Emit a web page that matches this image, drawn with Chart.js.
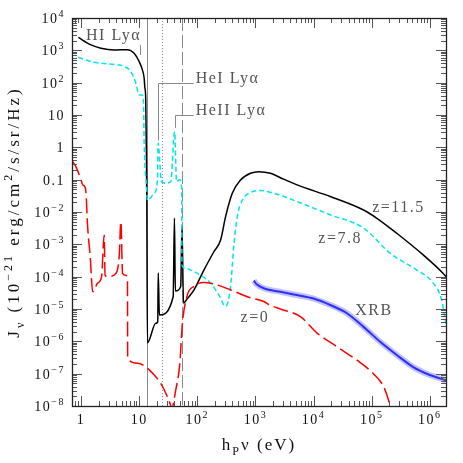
<!DOCTYPE html>
<html>
<head>
<meta charset="utf-8">
<title>J_nu spectra</title>
<script src="https://cdn.jsdelivr.net/npm/chart.js@4/dist/chart.umd.min.js"></script>
<style>
  html, body { margin: 0; padding: 0; background: #fff; }
</style>
</head>
<body>
<canvas id="chart" width="463" height="463"></canvas>
<script>
// photon energy (eV) and J_nu (1e-21 erg/cm2/s/sr/Hz)

// z = 11.5 (black, solid)
var z115Energy = [0.9, 1.48, 2.2, 3.7, 6.3, 8.2, 10.0, 11.4, 12.2, 12.5, 13.0, 13.4, 13.55, 13.9,
  19.3, 20.9, 21.3, 22.3, 38.5, 40.5, 42.0, 51.9, 54.6, 58.0, 67.5, 88, 130, 193, 252, 307,
  400, 555, 824, 1143, 1814, 2690, 5210, 19400, 72400, 123000, 270000, 770000, 1700000, 1900000];
var z115J = [2500, 1470, 1160, 1025, 1050, 810, 450, 245, 137, 75, 29, 0.27, 0.02, 9e-7,
  3.6e-6, 4e-6, 1.3e-4, 6.5e-6, 2.4e-5, 6.5e-3, 3.6e-5, 5e-5, 3.6e-3, 1.5e-5, 2.1e-5, 3.9e-5, 1.6e-4, 5.9e-4, 1.36e-3, 7.2e-3,
  0.038, 0.098, 0.158, 0.177, 0.158, 0.115, 0.069, 0.030, 0.0115, 6.4e-3, 2.2e-3, 4.7e-4, 1.26e-4, 1e-4];

// z = 7.8 (cyan, short dashes)
var z78Energy = [0.9, 1.48, 2.2, 4.26, 5.53, 7.2, 8.8, 10.0, 11.4, 11.9, 12.2, 13.4, 13.9, 18.1, 20.7,
  21.2, 24.2, 28.6, 35, 40.8, 44, 50, 54.0, 54.5, 63, 77, 114, 170, 236, 307, 374, 426, 488, 594,
  824, 1222, 2070, 5210, 19400, 72400, 208000, 596000, 1150000, 1600000, 1800000, 1900000];
var z78J = [611, 447, 398, 355, 316, 220, 95, 41.7, 41.7, 23, 1.35, 0.06, 0.023, 0.038, 0.098,
  1.35, 0.087, 0.078, 0.087, 3.03, 0.087, 0.1, 0.05, 2.3e-4, 1.8e-4, 1.6e-4, 1.1e-4, 6.3e-5, 2.7e-5, 1.2e-5, 5e-5, 9.4e-4, 7.2e-3, 0.023,
  0.04, 0.046, 0.038, 0.021, 8.2e-3, 3.2e-3, 5.3e-4, 1.6e-4, 6.3e-5, 1.9e-5, 6e-6, 3.5e-6];

// z = 0 (red, long dashes)
var z0Energy = [0.72, 0.82, 0.935, 1.0, 1.07, 1.17, 1.22, 1.30, 1.44, 1.59, 1.93, 2.26, 2.5, 2.6, 2.87,
  3.98, 4.54, 4.85, 5.19, 5.9, 6.3, 6.35, 9.4, 13.9, 18.1, 23.6, 30.7, 35, 36, 42.6, 50, 55.5, 67.5,
  88, 130, 170, 374, 723, 1393, 1814, 2690, 5940, 11500, 25300, 63500, 107000, 160000, 195000, 210000];
var z0J = [0.36, 0.25, 0.14, 0.098, 0.069, 0.06, 0.038, 3.5e-3, 4.2e-4, 3.4e-5, 6.3e-5, 1e-4, 1.9e-3, 1.1e-4, 1e-4,
  1.25e-4, 4.3e-4, 5e-3, 1.26e-4, 1.1e-4, 8e-5, 3e-7, 2.1e-7, 1.47e-7, 9.1e-8, 5e-8, 1.9e-8, 1e-8, 8e-9, 3.1e-8, 2e-7, 3.6e-6, 2.7e-5,
  5e-5, 6.6e-5, 6.3e-5, 3.9e-5, 2.4e-5, 1.7e-5, 1.3e-5, 1e-5, 5.8e-6, 1.8e-6, 6.8e-7, 2.2e-7, 1e-7, 4e-8, 1.5e-8, 8e-9];

// observed X-ray background (blue band)
var xrbEnergy = [940, 1050, 1393, 2690, 5210, 10000, 19400, 37600, 72400, 140000, 270000, 520000, 1000000, 1800000, 1900000];
var xrbJ = [7.5e-5, 5.8e-5, 4.4e-5, 3.4e-5, 2.7e-5, 2.1e-5, 1.33e-5, 7.4e-6, 2.8e-6, 9.7e-7, 3.8e-7, 1.6e-7, 9.1e-8, 6.4e-8, 6.1e-8];

// ionisation edges (HI, HeI, HeII) and Ly-alpha energies
var edgeEnergy = [13.6, 24.6, 54.4];
var lyaEnergy = [10.2, 21.2, 40.8];
var lyaNames = ['HI Ly\u03b1', 'HeI Ly\u03b1', 'HeII Ly\u03b1'];

var xTickValues = [1, 10, 100, 1e3, 1e4, 1e5, 1e6];
var xTickLabels = ['1', '10', '10^2', '10^3', '10^4', '10^5', '10^6'];
var yTickValues = [1e4, 1e3, 100, 10, 1, 0.1, 1e-2, 1e-3, 1e-4, 1e-5, 1e-6, 1e-7, 1e-8];
var yTickLabels = ['10^4', '10^3', '10^2', '10', '1', '0.1', '10^-2', '10^-3', '10^-4', '10^-5', '10^-6', '10^-7', '10^-8'];

var FONT = "'Liberation Serif', 'DejaVu Serif', serif";

function series(xs, ys) {
  return xs.map(function (x, i) { return { x: x, y: ys[i] }; });
}

// 1..9 x 10^n ticks over the axis range
function logTicks(scale) {
  var out = [];
  var lo = Math.floor(Math.log10(scale.min)), hi = Math.ceil(Math.log10(scale.max));
  for (var e = lo; e <= hi; e++) {
    for (var m = 1; m < 10; m++) {
      var v = m * Math.pow(10, e);
      if (v >= scale.min * 0.999 && v <= scale.max * 1.001) out.push({ value: v, major: m === 1 });
    }
  }
  scale.ticks = out;
}

function parseLabel(s) {
  var i = s.indexOf('^');
  if (i < 0) return [{ t: s }];
  return [{ t: s.slice(0, i) }, { t: s.slice(i + 1).replace('-', '\u2212'), sup: true }];
}

// draw text pieces with super/subscripts
function drawParts(ctx, parts, x, y, align, size, spacing) {
  var w = 0;
  parts.forEach(function (p) {
    ctx.font = ((p.sup || p.sub) ? Math.round(size * 0.68) : size) + 'px ' + FONT;
    ctx.letterSpacing = spacing + 'px';
    p.w = ctx.measureText(p.t).width;
    w += p.w;
  });
  var x0 = align === 'right' ? x - w : align === 'center' ? x - w / 2 : x;
  ctx.textAlign = 'left';
  ctx.textBaseline = 'alphabetic';
  parts.forEach(function (p) {
    ctx.font = ((p.sup || p.sub) ? Math.round(size * 0.68) : size) + 'px ' + FONT;
    ctx.letterSpacing = spacing + 'px';
    var dy = p.sup ? -size * 0.42 : p.sub ? size * 0.28 : 0;
    ctx.fillText(p.t, x0, y + dy);
    x0 += p.w;
  });
}

var edgesPlugin = {
  id: 'edges',
  beforeDatasetsDraw: function (chart) {
    var ctx = chart.ctx, a = chart.chartArea, xs = chart.scales.x;
    var dashes = [[], [1, 2], [13, 4]];
    ctx.save();
    ctx.strokeStyle = '#8a8a8a';
    ctx.lineWidth = 1;
    edgeEnergy.forEach(function (e, i) {
      var px = Math.round(xs.getPixelForValue(e)) + 0.5;
      ctx.setLineDash(dashes[i]);
      ctx.beginPath();
      ctx.moveTo(px, a.top);
      ctx.lineTo(px, a.bottom);
      ctx.stroke();
    });
    ctx.restore();
  },
  afterDatasetsDraw: function (chart) {
    var ctx = chart.ctx, xs = chart.scales.x, ys = chart.scales.y;
    ctx.save();
    ctx.strokeStyle = '#8a8a8a';
    ctx.fillStyle = '#555';
    ctx.lineWidth = 1;
    // HI Ly-alpha: short mark under the label
    var p0 = Math.round(xs.getPixelForValue(lyaEnergy[0])) + 0.5;
    ctx.beginPath();
    ctx.moveTo(p0, ys.getPixelForValue(1470));
    ctx.lineTo(p0, ys.getPixelForValue(720));
    ctx.stroke();
    drawParts(ctx, [{ t: lyaNames[0] }], xs.getPixelForValue(1.22), ys.getPixelForValue(2100), 'left', 16, 1.5);
    // HeI and HeII Ly-alpha: leader lines to the labels
    [[1, 100, 1.6], [2, 10, 4]].forEach(function (d) {
      var px = Math.round(xs.getPixelForValue(lyaEnergy[d[0]])) + 0.5;
      var py = Math.round(ys.getPixelForValue(d[1])) + 0.5;
      var pe = xs.getPixelForValue(86.8);
      ctx.beginPath();
      ctx.moveTo(px, ys.getPixelForValue(d[2]));
      ctx.lineTo(px, py);
      ctx.lineTo(pe, py);
      ctx.stroke();
      drawParts(ctx, [{ t: lyaNames[d[0]] }], pe + 2, py - 1, 'left', 16, 1.5);
    });
    // curve labels
    [['z=11.5', 1.02e5, 0.0102], ['z=7.8', 1.21e4, 1.1e-3], ['XRB', 5.2e4, 6.5e-6], ['z=0', 555, 4.05e-6]].forEach(function (l) {
      drawParts(ctx, [{ t: l[0] }], xs.getPixelForValue(l[1]), ys.getPixelForValue(l[2]), 'left', 16, 1.5);
    });
    ctx.restore();
  }
};

var framePlugin = {
  id: 'frame',
  afterDraw: function (chart) {
    var ctx = chart.ctx, a = chart.chartArea, xs = chart.scales.x, ys = chart.scales.y;
    ctx.save();
    ctx.strokeStyle = '#555';
    ctx.lineWidth = 1;
    ctx.beginPath();
    xs.ticks.forEach(function (t) {
      var px = Math.round(xs.getPixelForValue(t.value)) + 0.5;
      var len = t.major ? 10 : 5;
      ctx.moveTo(px, a.bottom); ctx.lineTo(px, a.bottom - len);
      ctx.moveTo(px, a.top); ctx.lineTo(px, a.top + len);
    });
    ys.ticks.forEach(function (t) {
      var py = Math.round(ys.getPixelForValue(t.value)) + 0.5;
      var len = t.major ? 10 : 5;
      ctx.moveTo(a.left, py); ctx.lineTo(a.left + len, py);
      ctx.moveTo(a.right, py); ctx.lineTo(a.right - len, py);
    });
    ctx.stroke();
    ctx.strokeStyle = '#222';
    ctx.lineWidth = 1.3;
    ctx.strokeRect(Math.round(a.left) + 0.5, Math.round(a.top) + 0.5, Math.round(a.right - a.left), Math.round(a.bottom - a.top));

    // tick labels
    ctx.fillStyle = '#111';
    xTickValues.forEach(function (v, i) {
      drawParts(ctx, parseLabel(xTickLabels[i]), xs.getPixelForValue(v), a.bottom + 18, 'center', 14, 1.5);
    });
    yTickValues.forEach(function (v, i) {
      drawParts(ctx, parseLabel(yTickLabels[i]), a.left - 7, ys.getPixelForValue(v) + 5, 'right', 14, 1.5);
    });

    // axis titles
    drawParts(ctx, [{ t: 'h' }, { t: 'P', sub: true }, { t: '\u03bd (eV)' }], (a.left + a.right) / 2, 450, 'center', 17, 2);
    ctx.translate(19, (a.top + a.bottom) / 2);
    ctx.rotate(-Math.PI / 2);
    drawParts(ctx, [{ t: 'J' }, { t: '\u03bd', sub: true }, { t: ' (10' }, { t: '\u221221', sup: true },
      { t: ' erg/cm' }, { t: '2', sup: true }, { t: '/s/sr/Hz)' }], 0, 0, 'center', 17, 3);
    ctx.restore();
  }
};

new Chart(document.getElementById('chart').getContext('2d'), {
  type: 'line',
  data: {
    datasets: [
      { label: 'XRB band', data: series(xrbEnergy, xrbJ), borderColor: 'rgba(110,110,255,0.42)', borderWidth: 6 },
      { label: 'XRB', data: series(xrbEnergy, xrbJ), borderColor: '#0000ff', borderWidth: 2 },
      { label: 'z=0', data: series(z0Energy, z0J), borderColor: '#ff0000', borderWidth: 1.5, borderDash: [15, 5] },
      { label: 'z=7.8', data: series(z78Energy, z78J), borderColor: '#00e5ee', borderWidth: 1.5, borderDash: [5, 3] },
      { label: 'z=11.5', data: series(z115Energy, z115J), borderColor: '#000000', borderWidth: 1.5 }
    ]
  },
  options: {
    responsive: false,
    devicePixelRatio: 1,
    animation: false,
    events: [],
    elements: { point: { radius: 0 }, line: { fill: false, cubicInterpolationMode: 'monotone' } },
    layout: { padding: { top: 18, right: 17, left: 0, bottom: 0 } },
    plugins: { legend: { display: false }, tooltip: { enabled: false } },
    scales: {
      x: {
        type: 'logarithmic', min: 0.72, max: 1.9e6,
        grid: { display: false }, border: { display: false }, ticks: { display: false },
        afterBuildTicks: logTicks,
        afterFit: function (s) { s.height = 57; }
      },
      y: {
        type: 'logarithmic', min: 1e-8, max: 1e4,
        grid: { display: false }, border: { display: false }, ticks: { display: false },
        afterBuildTicks: logTicks,
        afterFit: function (s) { s.width = 72; }
      }
    }
  },
  plugins: [edgesPlugin, framePlugin]
});
</script>
</body>
</html>
